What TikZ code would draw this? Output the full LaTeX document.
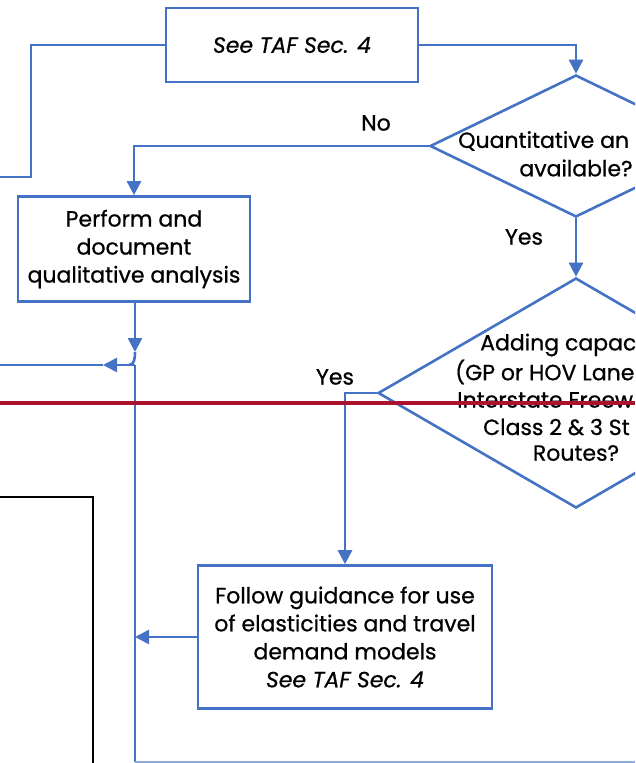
\documentclass[tikz,border=0pt]{standalone}
\usepackage{fontspec}
\setmainfont{Poppins}[FakeBold=0.7]
\usetikzlibrary{arrows.meta,shapes.geometric}
\definecolor{fblue}{HTML}{4472C4}
\definecolor{fred}{RGB}{172,18,46}
\begin{document}
\begin{tikzpicture}[x=1pt,y=-1pt,
  every node/.style={font=\fontsize{22}{28}\selectfont, text=black},
  flow/.style={draw=fblue, line width=2.6pt},
  arr/.style={flow, -{Triangle[width=14pt,length=14pt]}},
  boxstyle/.style={draw=fblue, line width=2.6pt, rectangle, align=center, inner sep=0pt},
  dia/.style={draw=fblue, line width=2.6pt, diamond, inner sep=0pt},
  lbl/.style={inner sep=0pt}
]
\useasboundingbox (0,0) rectangle (635,763);
\clip (0,0) rectangle (635,763);
% nodes
\node[boxstyle, minimum width=252pt, minimum height=74pt] (top) at (292,45) {\itshape See TAF Sec. 4};
\node[dia, minimum width=292pt, minimum height=142pt] (d1) at (576,146) {};
\node[boxstyle, minimum width=232pt, minimum height=105pt] (perf) at (134,249) {Perform and\\document\\qualitative analysis};
\node[dia, minimum width=396pt, minimum height=230pt] (d2) at (576,393) {};
\node[boxstyle, minimum width=294pt, minimum height=143pt] (follow) at (345,637) {Follow guidance for use\\of elasticities and travel\\demand models\\\itshape See TAF Sec. 4};
% diamond texts
\node[lbl, anchor=west] (q1) at (458,141) {Quantitative an};
\node[lbl] (q2) at (576,168) {available?};
\node[lbl, anchor=west] (a1) at (480,345) {Adding capac};
\node[lbl, anchor=west] (a2) at (455,372) {(GP or HOV Lane};
\node[lbl, anchor=west] (a3) at (457,400) {Interstate Freew};
\node[lbl, anchor=west] (a4) at (483,427) {Class 2 \& 3 St};
\node[lbl] (a5) at (576,453) {Routes?};
% labels
\node[lbl] (no) at (376,123) {No};
\node[lbl] (yes1) at (524,237) {Yes};
\node[lbl] (yes2) at (335,377) {Yes};
% coordinates
\coordinate (lt) at (0,177);
\coordinate (jn) at (135,352);
\coordinate (jm) at (129,365);
\coordinate (vt) at (135,365);
\coordinate (vb) at (135,762);
\coordinate (am) at (103,365);
\coordinate (lm) at (0,365);
\coordinate (fl) at (135,637);
\coordinate (br) at (635,762);
% connectors
\draw[arr] (top.east) -| (d1.north);
\draw[flow] (top.west) -| (31,177) -- (lt);
\draw[arr] (d1.west) -| (perf.north);
\draw[arr] (d1.south) -- (d2.north);
\draw[arr] (d2.west) -| (follow.north);
\draw[arr] (follow.west) -- (fl);
\draw[arr] (perf.south -| jn) -- (jn);
\draw[flow] (jn) to[out=-90,in=0] (jm);
\draw[flow] (vb) -- (vt);
\draw[arr] (vt) -- (am);
\draw[flow] (am) -- (lm);
\draw[draw=fblue!60, line width=1.5pt] (vb) -- (br);
% black frame
\draw[black, line width=2.2pt] (0,497) -- (93,497) -- (93,763);
% red rule
\draw[fred, line width=4.5pt] (0,403) -- (635,403);
\end{tikzpicture}
\end{document}
